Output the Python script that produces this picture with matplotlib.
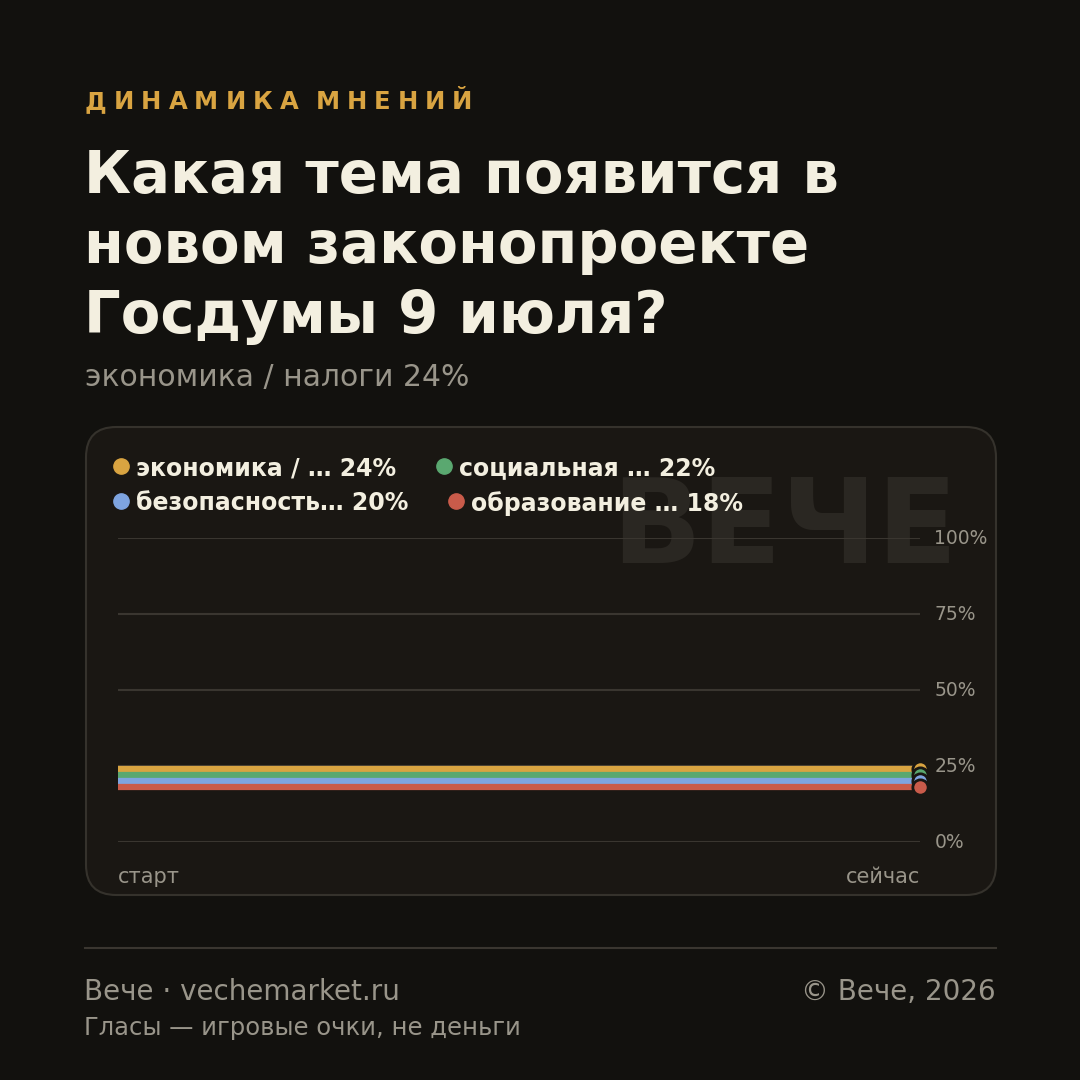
import matplotlib.pyplot as plt
from matplotlib.patches import FancyBboxPatch
from matplotlib.lines import Line2D

# data
labels = ["экономика / …", "социальная …", "безопасность…", "образование …"]
values = [24, 22, 20, 18]
colors = ["#d9a441", "#5aa870", "#7ea4e0", "#c95b4a"]
x_labels = ["старт", "сейчас"]
y_ticks = [0, 25, 50, 75, 100]

BG = "#12110e"
CARD = "#1a1713"
EDGE = "#35322c"
TEXT = "#f3efe0"
MUTED = "#99958a"

W = 1080


def fx(px):
    return px / W


def fy(py):
    return 1 - py / W


fig = plt.figure(figsize=(10.8, 10.8), dpi=100, facecolor=BG)
fig.canvas.draw()
renderer = fig.canvas.get_renderer()

# header, letter-spaced by hand
x = 85
for ch in "ДИНАМИКА МНЕНИЙ":
    if ch == " ":
        x += 10
        continue
    t = fig.text(fx(x), fy(109), ch, color="#d9a441", fontsize=17.5,
                 fontweight="bold", va="baseline")
    bb = t.get_window_extent(renderer)
    x = bb.x1 + 7

for i, line in enumerate(["Какая тема появится в", "новом законопроекте", "Госдумы 9 июля?"]):
    fig.text(fx(84), fy(193 + i * 70), line, color=TEXT, fontsize=41.5,
             fontweight="bold", va="baseline")
fig.text(fx(85), fy(386), "экономика / налоги 24%", color=MUTED, fontsize=21.5, va="baseline")

# card
card = FancyBboxPatch((fx(86), fy(895)), fx(910), fx(468),
                      boxstyle="round,pad=0,rounding_size=0.028",
                      transform=fig.transFigure, facecolor=CARD, edgecolor=EDGE,
                      linewidth=1.5, zorder=-2)
fig.patches.append(card)

# watermark
fig.text(fx(958), fy(563), "ВЕЧЕ", color="#2a2722", fontsize=85,
         fontweight="bold", ha="right", va="baseline", zorder=-1)

# plot
ax = fig.add_axes([fx(118), fy(842), fx(802), fx(304)])
ax.set_facecolor("none")
ax.set_xlim(0, 1)
ax.set_ylim(0, 100)
for t in y_ticks:
    ax.axhline(t, color="#3a3630", linewidth=1.5, zorder=1)
    ax.text(1.018, t, f"{t}%", transform=ax.get_yaxis_transform(), color=MUTED,
            fontsize=13.5, va="center", ha="left")
for v, c in zip(values, colors):
    ax.plot([0, 1], [v, v], color=c, linewidth=4.5, solid_capstyle="butt", zorder=3)
for v, c in zip(values, colors):
    ax.plot([1], [v], "o", color=c, markersize=11, markeredgecolor=CARD,
            markeredgewidth=2, clip_on=False, zorder=4)
ax.set_xticks([])
ax.set_yticks([])
for s in ax.spines.values():
    s.set_visible(False)
ax.text(0, -0.115, x_labels[0], transform=ax.transAxes, color=MUTED, fontsize=15,
        ha="left", va="center")
ax.text(1, -0.115, x_labels[1], transform=ax.transAxes, color=MUTED, fontsize=15,
        ha="right", va="center")

# legend (flow layout)
rows = [(466, [0, 1]), (501, [2, 3])]
for ry, idx in rows:
    mx = 121
    for i in idx:
        fig.lines.append(Line2D([fx(mx)], [fy(ry)], marker="o", markersize=11,
                                color=colors[i], linestyle="none",
                                transform=fig.transFigure))
        t = fig.text(fx(mx + 15), fy(ry), f"{labels[i]} {values[i]}%", color=TEXT,
                     fontsize=17, fontweight="bold", va="center_baseline")
        bb = t.get_window_extent(renderer)
        mx = bb.x1 + 48

# footer
fig.lines.append(Line2D([fx(85), fx(996)], [fy(948), fy(948)], color="#3a3630",
                        linewidth=1.5, transform=fig.transFigure))
fig.text(fx(84), fy(1000), "Вече · vechemarket.ru", color=MUTED, fontsize=20, va="baseline")
fig.text(fx(996), fy(1000), "© Вече, 2026", color=MUTED, fontsize=20, va="baseline", ha="right")
fig.text(fx(84), fy(1035), "Гласы — игровые очки, не деньги", color=MUTED, fontsize=17.5,
         va="baseline")

fig.savefig("out.png", dpi=100, facecolor=BG)
